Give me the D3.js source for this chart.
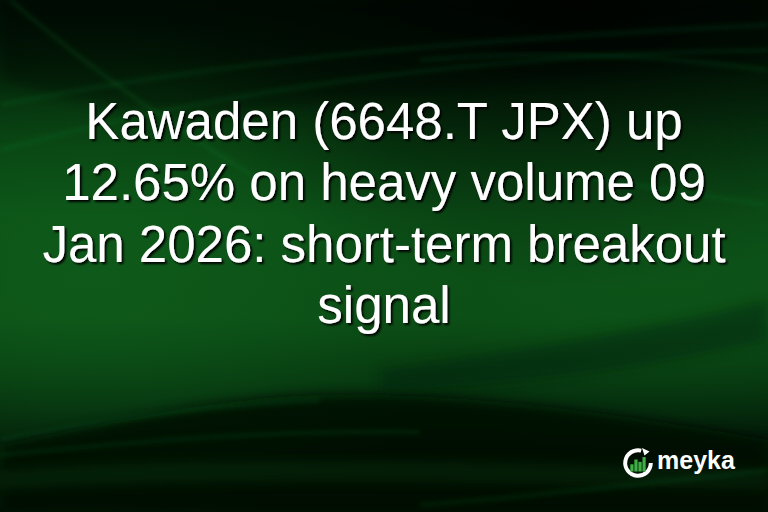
<!DOCTYPE html>
<html>
<head>
<meta charset="utf-8">
<script src="https://cdn.jsdelivr.net/npm/d3@7/dist/d3.min.js"></script>
<style>
html,body{margin:0;padding:0;background:#000;overflow:hidden}
svg{display:block}
</style>
</head>
<body>
<script>
// ---- data ----
const titleLines = [
  "Kawaden (6648.T JPX) up",
  "12.65% on heavy volume 09",
  "Jan 2026: short-term breakout",
  "signal"
];
const brandName = "meyka";
const logoBarHeights = [0.45, 0.75, 0.6, 0.9];

// ---- setup ----
const W = 768, H = 512;
const svg = d3.select("body").append("svg").attr("width", W).attr("height", H);
const defs = svg.append("defs");

const bg = defs.append("linearGradient").attr("id","bg").attr("x1",0).attr("y1",0).attr("x2",0).attr("y2",1);
[["0%","#010f04"],["12%","#021c07"],["28%","#073d10"],["42%","#0b4e16"],["62%","#0b4c15"],["74%","#06360f"],["86%","#021707"],["100%","#010b03"]]
  .forEach(s=>bg.append("stop").attr("offset",s[0]).attr("stop-color",s[1]));

const glow = defs.append("radialGradient").attr("id","glow").attr("cx","0.12").attr("cy","0.55").attr("r","0.5");
glow.append("stop").attr("offset","0%").attr("stop-color","#12681f").attr("stop-opacity",0.5);
glow.append("stop").attr("offset","100%").attr("stop-color","#12681f").attr("stop-opacity",0);

const glow2 = defs.append("radialGradient").attr("id","glow2").attr("cx","0.85").attr("cy","0.5").attr("r","0.4");
glow2.append("stop").attr("offset","0%").attr("stop-color","#0f5d1c").attr("stop-opacity",0.45);
glow2.append("stop").attr("offset","100%").attr("stop-color","#0f5d1c").attr("stop-opacity",0);

const dark = defs.append("radialGradient").attr("id","dark").attr("cx","0.75").attr("cy","0.02").attr("r","0.55");
dark.append("stop").attr("offset","0%").attr("stop-color","#000").attr("stop-opacity",0.7);
dark.append("stop").attr("offset","100%").attr("stop-color","#000").attr("stop-opacity",0);

const blur = defs.append("filter").attr("id","blur").attr("x","-20%").attr("y","-20%").attr("width","140%").attr("height","140%");
blur.append("feGaussianBlur").attr("stdDeviation",6);
const blurS = defs.append("filter").attr("id","blurS").attr("x","-20%").attr("y","-20%").attr("width","140%").attr("height","140%");
blurS.append("feGaussianBlur").attr("stdDeviation",2.5);

const shadow = defs.append("filter").attr("id","shadow").attr("x","-10%").attr("y","-20%").attr("width","120%").attr("height","150%");
shadow.append("feDropShadow").attr("dx",2).attr("dy",2).attr("stdDeviation",0.8).attr("flood-color","#000").attr("flood-opacity",0.95);

svg.append("rect").attr("width",W).attr("height",H).attr("fill","url(#bg)");
svg.append("rect").attr("width",W).attr("height",H).attr("fill","url(#glow)");
svg.append("rect").attr("width",W).attr("height",H).attr("fill","url(#glow2)");
svg.append("rect").attr("width",W).attr("height",H).attr("fill","url(#dark)");

const waves = svg.append("g");
waves.append("path").attr("d","M0,445 C120,420 220,398 320,395 C450,392 600,410 768,440 L768,512 L0,512 Z")
  .attr("fill","#010d04").attr("opacity",0.8).attr("filter","url(#blur)");
waves.append("path").attr("d","M0,470 C200,455 450,460 768,470 L768,490 C450,480 200,478 0,490 Z")
  .attr("fill","#0a4514").attr("opacity",0.3).attr("filter","url(#blur)");
waves.append("path").attr("d","M0,0 L768,0 L768,60 C600,70 420,95 250,110 C150,118 60,100 0,80 Z")
  .attr("fill","#000").attr("opacity",0.3).attr("filter","url(#blur)");
waves.append("path").attr("d","M380,370 C520,350 650,330 768,300 L768,340 C640,370 520,385 380,390 Z")
  .attr("fill","#021a07").attr("opacity",0.4).attr("filter","url(#blur)");

const streaks = [
  "M0,105 C150,75 350,45 768,25",
  "M0,150 C200,95 450,55 768,50",
  "M10,0 C80,60 160,120 260,180",
  "M420,60 C540,50 660,55 768,70",
  "M0,455 C150,440 280,430 420,432",
  "M0,440 C100,420 200,405 320,400",
  "M420,505 C550,495 680,480 768,470",
  "M560,175 C640,185 700,195 768,205"
];
waves.selectAll("path.streak").data(streaks).enter().append("path")
  .attr("class","streak").attr("d",d=>d).attr("fill","none")
  .attr("stroke","#2f9a3c").attr("stroke-opacity",0.2).attr("stroke-width",3)
  .attr("filter","url(#blurS)");

// ---- title ----
const yLine = d3.scaleLinear().domain([0, titleLines.length-1]).range([139, 323]);
svg.append("g").selectAll("text").data(titleLines).enter().append("text")
  .attr("x", W/2).attr("y",(d,i)=>yLine(i))
  .attr("text-anchor","middle")
  .attr("font-family","'Liberation Sans', Arial, sans-serif")
  .attr("font-size",51)
  .attr("fill","#ffffff")
  .attr("filter","url(#shadow)")
  .text(d=>d);

// ---- logo ----
const logo = svg.append("g").attr("transform","translate(638,463)");
const R = 13;
const arc = d3.arc().innerRadius(R-2.2).outerRadius(R+1.8);
logo.append("path").attr("d", arc({startAngle: Math.PI*0.5, endAngle: Math.PI*2.08})).attr("fill","#fff");
logo.append("path").attr("d","M4,-15 L11.5,-11.5 L6.5,-7.5 Z").attr("fill","#fff");
const bx = d3.scaleBand().domain(d3.range(logoBarHeights.length)).range([-8.5,8.5]).padding(0.2);
const by = d3.scaleLinear().domain([0,1]).range([0,16]);
logo.selectAll("rect").data(logoBarHeights).enter().append("rect")
  .attr("x",(d,i)=>bx(i)).attr("width",bx.bandwidth())
  .attr("y",d=>8.5-by(d)).attr("height",d=>by(d))
  .attr("fill","#3fae45");
svg.append("text").attr("x",657).attr("y",468.5)
  .attr("font-family","'Liberation Sans', Arial, sans-serif")
  .attr("font-weight","bold").attr("font-size",25)
  .attr("fill","#fff").text(brandName);
</script>
</body>
</html>
